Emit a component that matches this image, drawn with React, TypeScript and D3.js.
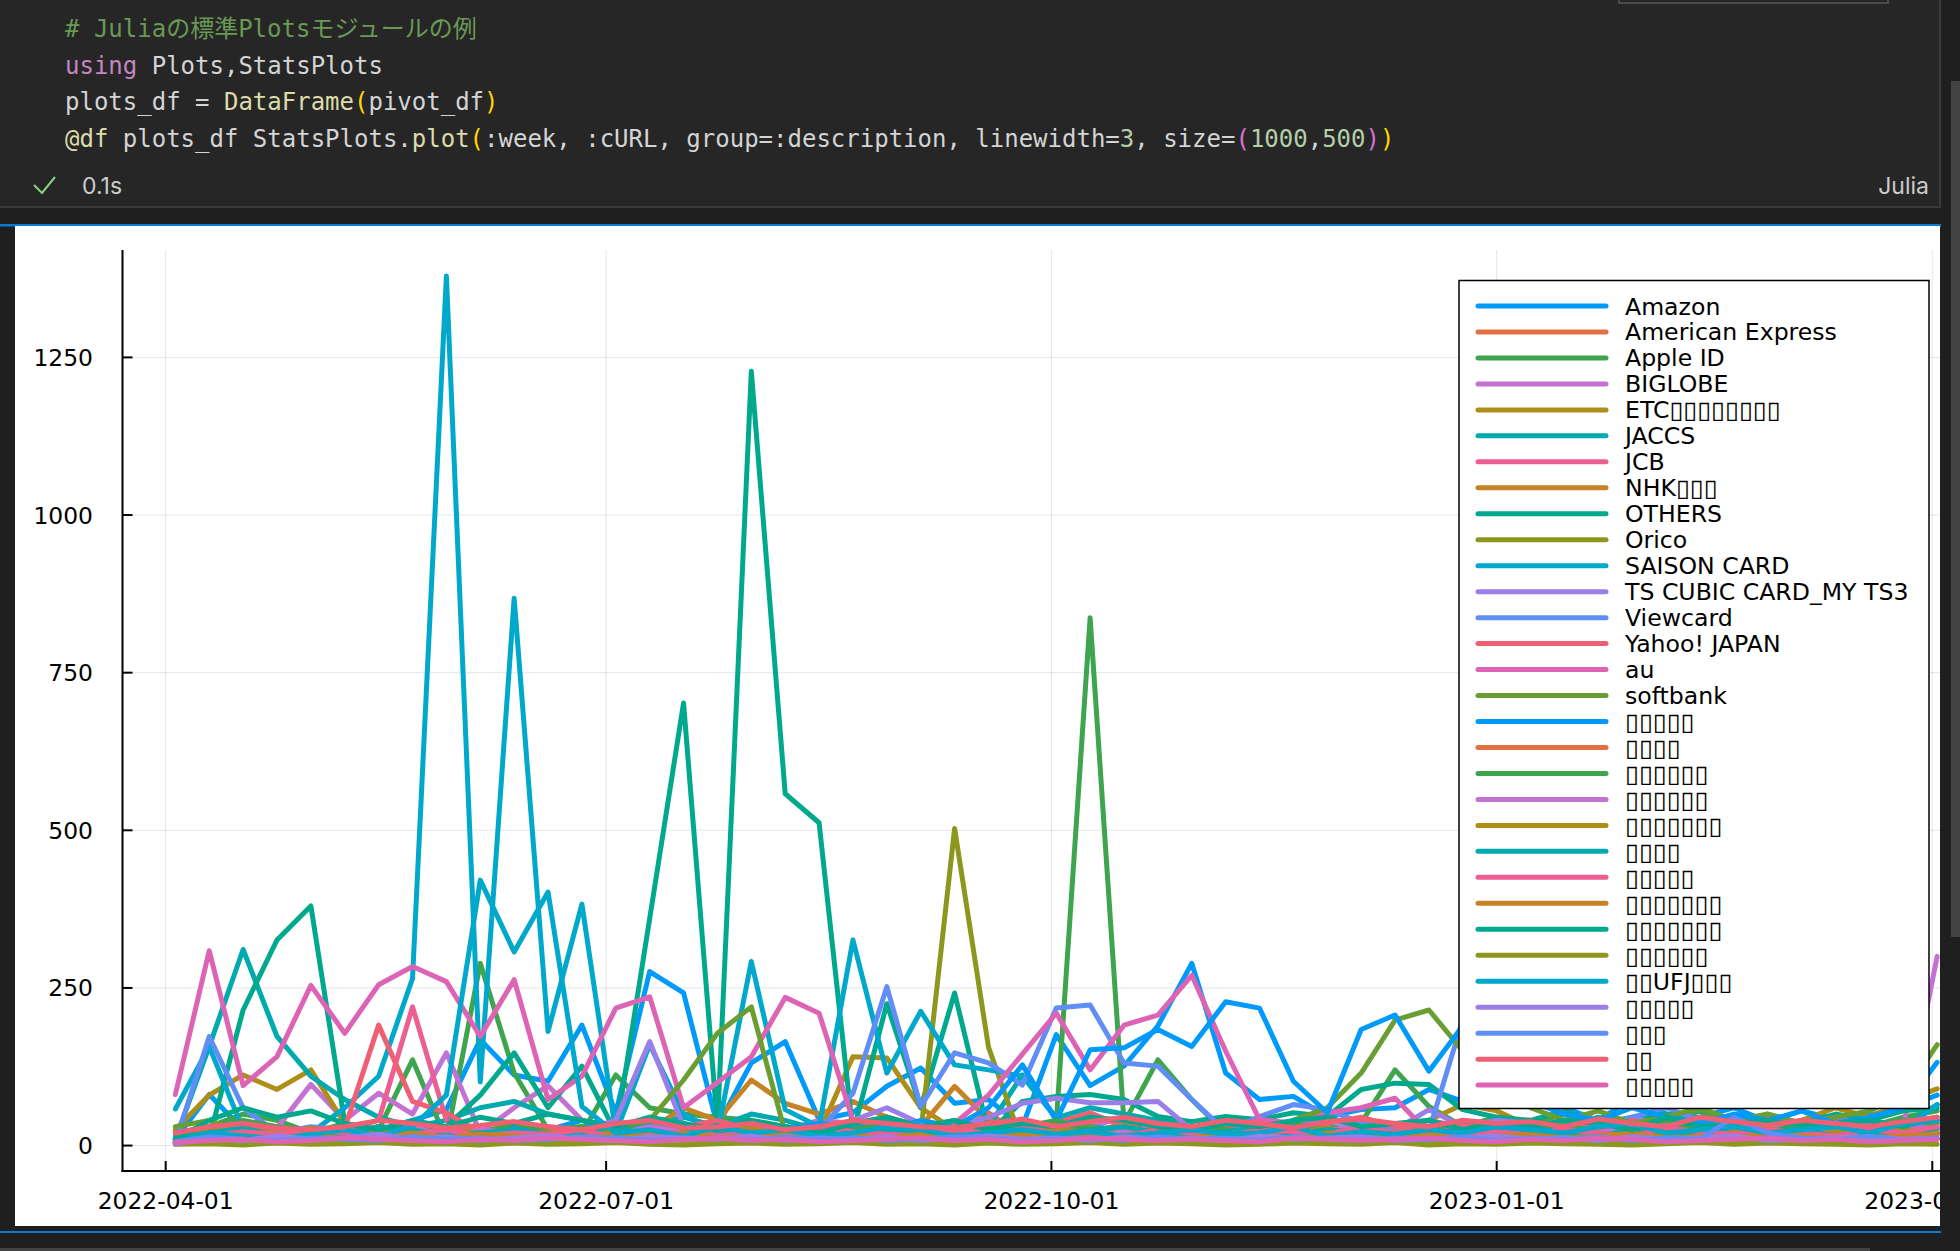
import * as d3 from "d3";

// weekly buckets (Sunday start)
const weeks = [
  "2022-04-03", "2022-04-10", "2022-04-17", "2022-04-24", "2022-05-01", "2022-05-08", "2022-05-15", "2022-05-22", "2022-05-29", "2022-06-05",
  "2022-06-12", "2022-06-19", "2022-06-26", "2022-07-03", "2022-07-10", "2022-07-17", "2022-07-24", "2022-07-31", "2022-08-07", "2022-08-14",
  "2022-08-21", "2022-08-28", "2022-09-04", "2022-09-11", "2022-09-18", "2022-09-25", "2022-10-02", "2022-10-09", "2022-10-16", "2022-10-23",
  "2022-10-30", "2022-11-06", "2022-11-13", "2022-11-20", "2022-11-27", "2022-12-04", "2022-12-11", "2022-12-18", "2022-12-25", "2023-01-01",
  "2023-01-08", "2023-01-15", "2023-01-22", "2023-01-29", "2023-02-05", "2023-02-12", "2023-02-19", "2023-02-26", "2023-03-05", "2023-03-12",
  "2023-03-19", "2023-03-26", "2023-04-02",
];

const amazon = [
  10, 81, 25, 15, 20, 30, 25, 40, 57, 168,
  112, 102, 191, 52, 276, 242, 31, 131, 165, 41,
  52, 94, 123, 67, 73, 30, 176, 95, 126, 190,
  289, 115, 73, 78, 46, 57, 60, 89, 70, 110,
  85, 60, 40, 75, 50, 45, 60, 38, 55, 42,
  48, 60, 132,
];
const amex = [
  3, 8, 12, 10, 15, 8, 12, 20, 15, 10,
  25, 18, 12, 10, 8, 15, 20, 12, 10, 8,
  15, 12, 20, 18, 52, 15, 10, 12, 8, 15,
  20, 12, 10, 18, 25, 15, 12, 20, 15, 10,
  12, 8, 15, 20, 12, 10, 15, 12, 20, 15,
  10, 12, 18,
];
const appleId = [
  20, 30, 50, 40, 20, 15, 25, 136, 9, 289,
  115, 25, 20, 112, 60, 50, 45, 40, 30, 25,
  30, 45, 30, 40, 20, 30, 36, 837, 36, 136,
  73, 20, 25, 30, 20, 36, 120, 62, 30, 45,
  35, 50, 30, 25, 40, 55, 30, 45, 35, 40,
  30, 45, 55,
];
const biglobe = [
  5, 15, 30, 28, 97, 40, 83, 50, 147, 20,
  60, 95, 40, 30, 25, 35, 20, 30, 25, 40,
  35, 45, 30, 25, 40, 20, 35, 30, 45, 25,
  30, 20, 35, 25, 30, 20, 25, 40, 30, 35,
  25, 30, 45, 20, 35, 30, 25, 40, 30, 20,
  35, 30, 300,
];
const etcCard = [
  25, 80, 112, 89, 120, 35, 20, 15, 20, 10,
  15, 20, 25, 15, 10, 20, 30, 25, 15, 20,
  141, 139, 60, 25, 15, 20, 10, 15, 20, 10,
  15, 20, 25, 15, 20, 30, 25, 40, 65, 55,
  30, 40, 25, 35, 50, 30, 45, 25, 40, 60,
  45, 70, 90,
];
const jaccs = [
  10, 157, 311, 173, 110, 73, 45, 30, 40, 60,
  70, 50, 40, 30, 35, 45, 30, 50, 40, 25,
  30, 40, 35, 25, 30, 112, 44, 60, 50, 40,
  30, 25, 35, 20, 30, 25, 35, 30, 25, 40,
  35, 20, 45, 30, 25, 40, 30, 35, 25, 30,
  40, 30, 65,
];
const jcb = [
  10, 30, 25, 20, 15, 25, 40, 220, 40, 20,
  30, 25, 20, 15, 30, 20, 25, 15, 20, 30,
  25, 20, 15, 30, 25, 20, 15, 25, 30, 20,
  15, 25, 20, 30, 15, 20, 25, 15, 30, 20,
  25, 20, 30, 15, 25, 20, 15, 30, 20, 25,
  15, 20, 40,
];
const nhk = [
  5, 20, 30, 25, 20, 15, 30, 25, 20, 15,
  20, 25, 30, 15, 25, 60, 40, 104, 67, 50,
  70, 45, 30, 94, 40, 25, 30, 20, 35, 25,
  20, 30, 25, 35, 20, 25, 30, 20, 35, 25,
  30, 20, 25, 35, 20, 30, 25, 20, 30, 25,
  20, 30, 25,
];
const others = [
  10, 12, 215, 326, 380, 36, 20, 17, 30, 80,
  147, 60, 126, 20, 360, 702, 31, 1228, 558, 512,
  20, 225, 60, 242, 20, 70, 78, 81, 73, 46,
  38, 46, 41, 52, 46, 89, 99, 97, 57, 45,
  40, 55, 35, 45, 50, 40, 30, 45, 35, 50,
  40, 55, 60,
];
const orico = [
  5, 8, 10, 6, 8, 5, 10, 8, 6, 5,
  8, 10, 6, 5, 8, 10, 6, 8, 5, 10,
  8, 6, 20, 503, 156, 4, 8, 10, 6, 5,
  8, 6, 10, 5, 8, 6, 10, 8, 5, 6,
  8, 10, 5, 6, 8, 5, 10, 6, 8, 5,
  6, 8, 10,
];
const saison = [
  58, 157, 25, 15, 20, 60, 110, 265, 1379, 101,
  868, 181, 383, 20, 160, 50, 20, 292, 57, 30,
  326, 115, 213, 128, 120, 110, 44, 30, 25, 20,
  15, 20, 25, 15, 20, 10, 15, 20, 25, 30,
  20, 25, 15, 30, 20, 25, 15, 20, 30, 25,
  20, 25, 65,
];
const tsCubic = [
  5, 10, 20, 15, 25, 20, 30, 25, 20, 15,
  20, 30, 25, 40, 165, 30, 20, 35, 25, 20,
  40, 60, 35, 30, 45, 67, 75, 68, 68, 70,
  25, 23, 30, 35, 40, 30, 25, 57, 30, 40,
  35, 25, 30, 45, 30, 20, 35, 25, 30, 40,
  30, 25, 35,
];
const viewcard = [
  5, 173, 60, 20, 30, 25, 20, 15, 25, 20,
  30, 20, 15, 25, 20, 30, 25, 20, 30, 25,
  83, 252, 62, 147, 131, 96, 218, 223, 131, 126,
  73, 23, 46, 65, 57, 36, 28, 23, 200, 150,
  90, 50, 30, 45, 60, 40, 30, 50, 35, 45,
  30, 40, 20,
];
const yahoo = [
  5, 25, 30, 25, 20, 28, 191, 70, 52, 20,
  25, 30, 20, 15, 25, 30, 40, 25, 20, 30,
  25, 20, 30, 25, 35, 30, 36, 52, 30, 25,
  20, 30, 40, 25, 35, 45, 30, 25, 35, 30,
  25, 35, 30, 40, 25, 30, 35, 45, 30, 25,
  30, 35, 40,
];
const au = [
  81, 309, 95, 141, 254, 178, 255, 284, 260, 173,
  263, 73, 110, 218, 236, 60, 100, 141, 235, 210,
  40, 30, 25, 35, 80, 145, 210, 120, 191, 207,
  270, 150, 41, 36, 52, 60, 75, 20, 40, 30,
  25, 20, 30, 25, 20, 30, 25, 20, 25, 30,
  20, 25, 30,
];
const softbank = [
  30, 40, 20, 15, 25, 20, 30, 25, 20, 15,
  25, 20, 30, 25, 40, 104, 178, 220, 20, 30,
  25, 30, 20, 25, 30, 20, 25, 30, 20, 25,
  30, 25, 20, 40, 60, 115, 199, 215, 150, 100,
  60, 40, 55, 35, 45, 60, 40, 50, 35, 45,
  55, 80, 160,
];
const jp17 = [
  5, 20, 15, 10, 25, 15, 20, 30, 25, 20,
  30, 25, 40, 20, 30, 25, 20, 30, 25, 35,
  30, 25, 40, 30, 60, 128, 40, 152, 155, 184,
  157, 228, 218, 102, 52, 184, 207, 118, 190, 120,
  70, 50, 40, 60, 45, 35, 50, 40, 55, 35,
  45, 60, 80,
];
const jp18 = [
  5, 10, 8, 12, 6, 10, 15, 8, 12, 10,
  8, 15, 10, 6, 12, 8, 10, 14, 8, 12,
  10, 8, 12, 6, 10, 14, 8, 10, 12, 6,
  10, 8, 14, 10, 6, 12, 8, 10, 14, 8,
  12, 6, 10, 8, 14, 10, 12, 8, 6, 10,
  12, 8, 10,
];
const jp19 = [
  15, 25, 40, 30, 20, 35, 25, 15, 30, 20,
  35, 25, 30, 20, 45, 30, 25, 35, 20, 15,
  25, 35, 30, 20, 25, 30, 40, 25, 20, 35,
  30, 25, 20, 35, 25, 30, 20, 25, 40, 30,
  25, 35, 20, 30, 40, 25, 30, 20, 35, 25,
  30, 40, 35,
];
const jp20 = [
  8, 20, 15, 25, 18, 12, 20, 30, 15, 25,
  20, 15, 25, 18, 30, 22, 15, 20, 25, 18,
  15, 25, 20, 30, 18, 25, 20, 15, 22, 30,
  25, 18, 20, 15, 25, 30, 20, 18, 25, 20,
  15, 25, 20, 30, 18, 22, 25, 15, 20, 25,
  30, 20, 25,
];
const jp21 = [
  2, 30, 25, 20, 28, 15, 22, 18, 25, 20,
  15, 22, 18, 25, 12, 20, 25, 30, 18, 22,
  20, 25, 15, 30, 22, 18, 25, 20, 15, 28,
  22, 18, 25, 20, 28, 15, 20, 25, 18, 22,
  25, 20, 15, 22, 18, 25, 20, 28, 15, 22,
  18, 25, 20,
];
const jp22 = [
  12, 20, 28, 15, 22, 18, 30, 25, 15, 20,
  25, 18, 22, 30, 15, 20, 28, 18, 25, 22,
  18, 25, 20, 15, 28, 22, 18, 25, 30, 20,
  15, 22, 28, 18, 25, 20, 15, 22, 18, 25,
  28, 20, 15, 25, 22, 18, 30, 20, 25, 15,
  22, 18, 28,
];
const jp23 = [
  4, 15, 22, 18, 25, 20, 12, 18, 25, 15,
  20, 18, 25, 12, 22, 18, 15, 20, 25, 30,
  22, 18, 15, 25, 20, 30, 18, 22, 15, 25,
  20, 15, 25, 22, 18, 30, 20, 25, 15, 22,
  18, 25, 20, 15, 28, 22, 18, 25, 20, 15,
  25, 20, 30,
];
const jp24 = [
  3, 10, 15, 12, 18, 10, 15, 20, 12, 18,
  15, 12, 10, 18, 15, 20, 12, 15, 18, 10,
  15, 12, 18, 10, 15, 20, 12, 18, 15, 10,
  12, 18, 15, 10, 20, 12, 15, 18, 10, 15,
  18, 12, 15, 20, 10, 15, 12, 18, 15, 10,
  12, 15, 18,
];
const jp25 = [
  10, 40, 60, 45, 55, 35, 25, 40, 30, 45,
  35, 50, 40, 30, 45, 35, 25, 40, 30, 20,
  35, 45, 30, 40, 25, 35, 30, 45, 40, 30,
  25, 35, 30, 40, 45, 30, 35, 40, 25, 35,
  30, 40, 35, 25, 45, 30, 35, 40, 30, 35,
  40, 30, 45,
];
const jp26 = [
  2, 3, 1, 4, 2, 3, 5, 2, 3, 1,
  4, 2, 3, 5, 2, 1, 3, 4, 2, 3,
  5, 2, 3, 1, 4, 2, 3, 5, 2, 4,
  3, 1, 2, 4, 3, 2, 5, 1, 3, 2,
  4, 3, 2, 1, 3, 5, 2, 4, 3, 2,
  1, 3, 2,
];
const ufjNicos = [
  5, 20, 15, 10, 18, 25, 15, 30, 80, 421,
  307, 402, 62, 20, 25, 15, 30, 20, 25, 15,
  20, 30, 25, 15, 20, 25, 18, 22, 15, 20,
  25, 18, 20, 30, 15, 22, 18, 25, 20, 30,
  25, 20, 30, 35, 20, 25, 30, 20, 25, 30,
  20, 35, 40,
];
const jp28 = [
  3, 12, 8, 15, 10, 12, 18, 10, 14, 8,
  12, 15, 10, 8, 14, 12, 10, 15, 8, 12,
  10, 14, 8, 12, 15, 10, 12, 8, 14, 10,
  12, 8, 15, 10, 12, 14, 8, 10, 12, 15,
  10, 12, 8, 14, 10, 12, 15, 8, 10, 12,
  14, 10, 12,
];
const jp29 = [
  6, 14, 10, 8, 12, 10, 8, 14, 10, 12,
  8, 10, 14, 12, 8, 10, 12, 8, 14, 10,
  12, 8, 10, 14, 12, 8, 10, 12, 8, 14,
  10, 12, 8, 14, 10, 8, 12, 10, 14, 8,
  12, 10, 14, 8, 12, 10, 45, 20, 12, 10,
  14, 8, 12,
];
const jp30 = [
  20, 30, 35, 28, 25, 30, 40, 35, 28, 32,
  38, 30, 25, 35, 40, 28, 30, 35, 25, 30,
  40, 35, 30, 28, 35, 42, 30, 38, 45, 35,
  30, 40, 35, 28, 38, 42, 35, 30, 40, 35,
  38, 30, 42, 35, 30, 45, 38, 32, 40, 35,
  30, 38, 45,
];
const jp31 = [
  5, 8, 10, 6, 8, 12, 10, 8, 6, 10,
  8, 12, 10, 8, 6, 10, 12, 8, 10, 6,
  8, 10, 12, 8, 10, 6, 8, 12, 10, 8,
  10, 8, 6, 12, 10, 8, 10, 12, 8, 6,
  10, 8, 12, 10, 6, 8, 10, 12, 8, 10,
  6, 8, 10,
];

// names as they come out of GR: Japanese glyphs missing -> boxes
const seriesNames = [
  "Amazon", "American Express", "Apple ID", "BIGLOBE", "ETC▯▯▯▯▯▯▯▯",
  "JACCS", "JCB", "NHK▯▯▯", "OTHERS", "Orico",
  "SAISON CARD", "TS CUBIC CARD_MY TS3", "Viewcard", "Yahoo! JAPAN", "au",
  "softbank", "▯▯▯▯▯", "▯▯▯▯", "▯▯▯▯▯▯", "▯▯▯▯▯▯",
  "▯▯▯▯▯▯▯", "▯▯▯▯", "▯▯▯▯▯", "▯▯▯▯▯▯▯", "▯▯▯▯▯▯▯",
  "▯▯▯▯▯▯", "▯▯UFJ▯▯▯", "▯▯▯▯▯", "▯▯▯", "▯▯",
  "▯▯▯▯▯",
];
const seriesValues = [
  amazon, amex, appleId, biglobe, etcCard,
  jaccs, jcb, nhk, others, orico,
  saison, tsCubic, viewcard, yahoo, au,
  softbank, jp17, jp18, jp19, jp20,
  jp21, jp22, jp23, jp24, jp25,
  jp26, ufjNicos, jp28, jp29, jp30,
  jp31,
];

// Plots.jl default palette
const palette = [
  "#009afa", "#e36f47", "#3ea44e", "#c371d2", "#ac8e18", "#00aaae", "#ed5e93", "#c68225",
  "#00a98d", "#8e971d", "#00a8cb", "#9b7fe9", "#618df6", "#f05f73", "#dd64b5", "#6b9e32",
];
const yTicks = [0, 250, 500, 750, 1000, 1250];
const xTicks = ["2022-04-01", "2022-07-01", "2022-10-01", "2023-01-01", "2023-04-01"];

// notebook cell source
const codeLines = [
  [["# Juliaの標準Plotsモジュールの例", "#6a9955"]],
  [["using", "#c586c0"], [" Plots,StatsPlots", "#d4d4d4"]],
  [["plots_df = ", "#d4d4d4"], ["DataFrame", "#dcdcaa"], ["(", "#ffd700"], ["pivot_df", "#d4d4d4"], [")", "#ffd700"]],
  [
    ["@df", "#dcdcaa"], [" plots_df StatsPlots.", "#d4d4d4"], ["plot", "#dcdcaa"], ["(", "#ffd700"],
    [":week, :cURL, group=:description, linewidth=", "#d4d4d4"], ["3", "#b5cea8"], [", size=", "#d4d4d4"],
    ["(", "#da70d6"], ["1000", "#b5cea8"], [",", "#d4d4d4"], ["500", "#b5cea8"], [")", "#da70d6"], [")", "#ffd700"],
  ],
];

const FONT = "'DejaVu Sans', sans-serif";
const BOX_W = 13.9;
const LW = 5;

function labelParts(label: string) {
  return label.split(/(▯+)/).filter((s) => s.length > 0).map((s, i) =>
    s[0] === "▯" ? (
      <tspan key={i} textLength={s.length * BOX_W} lengthAdjust="spacingAndGlyphs">{s}</tspan>
    ) : (
      <tspan key={i}>{s}</tspan>
    )
  );
}

export default function App() {
  const parse = d3.utcParse("%Y-%m-%d");
  const dates = weeks.map((d) => parse(d) as Date);
  const [d0, d1] = d3.extent(dates) as [Date, Date];
  const span = +d1 - +d0;
  const x = d3
    .scaleUtc()
    .domain([new Date(+d0 - span * 0.03), new Date(+d1 + span * 0.03)])
    .range([122.5, 1990]);

  const all = seriesValues.flat();
  const lo = d3.min(all) as number;
  const hi = d3.max(all) as number;
  const pad = (hi - lo) * 0.03;
  const y = d3.scaleLinear().domain([lo - pad, hi + pad]).range([1171, 250]);

  const line = d3
    .line<number>()
    .x((_, i) => x(dates[i]))
    .y((v) => y(v));

  const plotTop = 250;
  const plotBottom = 1171;
  const axisLeft = 122.5;
  const legendX = 1459;
  const legendY = 280.5;
  const rowH = 25.97;

  return (
    <svg width={1960} height={1251} style={{ position: "fixed", left: 0, top: 0, display: "block" }}>
      <style>{`body{margin:0;background:#1f1f1f}`}</style>
      <defs>
        <clipPath id="out">
          <rect x={15} y={226} width={1925} height={1000} />
        </clipPath>
      </defs>

      {/* editor chrome */}
      <rect x={0} y={0} width={1960} height={1251} fill="#1f1f1f" />
      <rect x={0} y={0} width={1940} height={206} fill="#262626" />
      <line x1={0} x2={1941} y1={207} y2={207} stroke="#3a3a3c" strokeWidth={2} />
      <line x1={1940} x2={1940} y1={0} y2={207} stroke="#3a3a3c" strokeWidth={2} />
      <rect x={1619} y={-10} width={269} height={13} fill="#252526" stroke="#4a4a4a" strokeWidth={2} />
      <rect x={1951} y={81} width={9} height={856} fill="#434343" />
      <rect x={0} y={1248} width={1870} height={3} fill="#434343" />

      <g fontFamily="'DejaVu Sans Mono', 'Noto Sans CJK JP', monospace" fontSize={24}>
        {codeLines.map((tokens, li) => (
          <text key={li} x={65} y={37 + li * 36.6} style={{ whiteSpace: "pre" }}>
            {tokens.map(([t, c], ti) => (
              <tspan key={ti} fill={c}>{t}</tspan>
            ))}
          </text>
        ))}
      </g>
      <path d="M34,185 L42,193 L55,177" fill="none" stroke="#89d185" strokeWidth={2} />
      <text x={82} y={194} fontFamily="Inter, sans-serif" fontSize={23} fill="#cccccc">0.1s</text>
      <text x={1929} y={194} fontFamily="Inter, sans-serif" fontSize={23} fill="#cccccc" textAnchor="end">Julia</text>

      {/* output frame */}
      <rect x={0} y={224} width={1941} height={2.5} fill="#0a7ad4" />
      <rect x={0} y={1231} width={1941} height={2} fill="#0a7ad4" />
      <rect x={15} y={226} width={1925} height={1000} fill="#ffffff" />

      <g clipPath="url(#out)">
        {/* grid */}
        {yTicks.map((t) => (
          <line key={"gy" + t} x1={axisLeft} x2={1990} y1={y(t)} y2={y(t)} stroke="#000" strokeOpacity={0.1} strokeWidth={1} />
        ))}
        {xTicks.map((t) => (
          <line key={"gx" + t} x1={x(parse(t) as Date)} x2={x(parse(t) as Date)} y1={plotTop} y2={plotBottom} stroke="#000" strokeOpacity={0.1} strokeWidth={1} />
        ))}

        {/* series */}
        <g fill="none" strokeWidth={LW} strokeLinejoin="round" strokeLinecap="round">
          {seriesValues.map((vals, i) => (
            <path key={seriesNames[i] + i} d={line(vals) || ""} stroke={palette[i % palette.length]} />
          ))}
        </g>

        {/* axes */}
        <line x1={axisLeft} x2={axisLeft} y1={plotTop} y2={plotBottom + 1} stroke="#000" strokeWidth={2} />
        <line x1={axisLeft - 1} x2={1990} y1={plotBottom} y2={plotBottom} stroke="#000" strokeWidth={2} />
        {yTicks.map((t) => (
          <g key={"ty" + t}>
            <line x1={axisLeft} x2={axisLeft + 10} y1={y(t)} y2={y(t)} stroke="#000" strokeWidth={2} />
            <text x={93} y={y(t) + 8.5} textAnchor="end" fontFamily={FONT} fontSize={23.4} fill="#000">{t}</text>
          </g>
        ))}
        {xTicks.map((t) => {
          const px = x(parse(t) as Date);
          return (
            <g key={"tx" + t}>
              <line x1={px} x2={px} y1={plotBottom} y2={plotBottom - 10} stroke="#000" strokeWidth={2} />
              <text x={px} y={1209} textAnchor="middle" fontFamily={FONT} fontSize={23.4} fill="#000">{t}</text>
            </g>
          );
        })}

        {/* legend */}
        <rect x={legendX} y={legendY} width={470} height={828} fill="#fff" stroke="#000" strokeWidth={1.5} />
        {seriesNames.map((name, i) => {
          const cy = 306 + i * rowH;
          return (
            <g key={"lg" + i}>
              <line x1={1478} x2={1606} y1={cy} y2={cy} stroke={palette[i % palette.length]} strokeWidth={LW} strokeLinecap="round" />
              <text x={1625} y={cy + 8.5} fontFamily={FONT} fontSize={23.6} fill="#000" style={{ whiteSpace: "pre" }}>
                {labelParts(name)}
              </text>
            </g>
          );
        })}
      </g>
    </svg>
  );
}
